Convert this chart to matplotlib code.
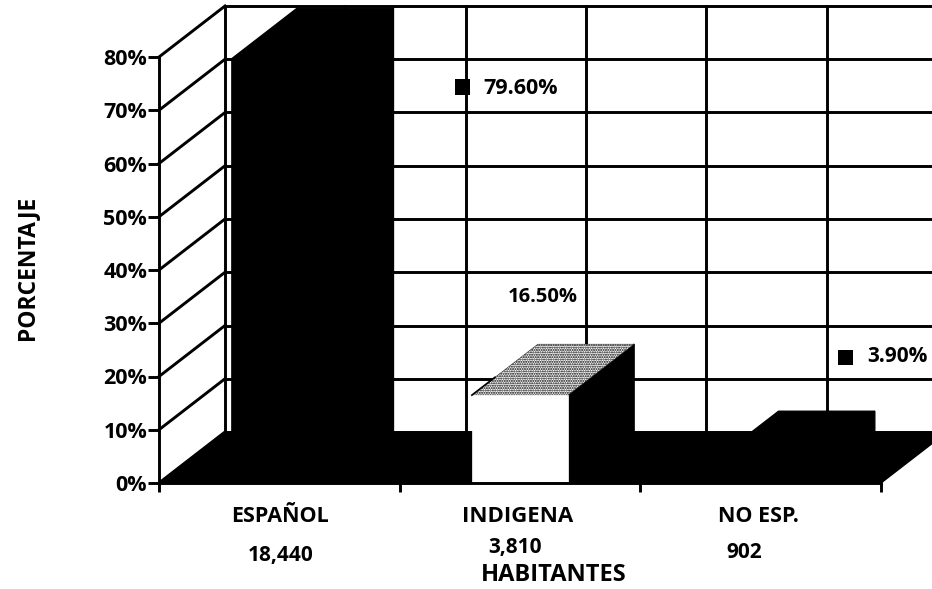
import matplotlib
matplotlib.use('Agg')
import matplotlib.pyplot as plt
from matplotlib.patches import Polygon, Rectangle

categories = ['ESPAÑOL', 'INDIGENA', 'NO ESP.']
habitantes = ['18,440', '3,810', '902']
values = [79.6, 16.5, 3.9]
value_labels = ['79.60%', '16.50%', '3.90%']
y_ticks = [0, 10, 20, 30, 40, 50, 60, 70, 80]
y_labels = ['0%', '10%', '20%', '30%', '40%', '50%', '60%', '70%', '80%']

W, H = 932, 589
plt.rcParams['font.family'] = ['Open Sans', 'DejaVu Sans']
plt.rcParams['font.weight'] = 'bold'

fig = plt.figure(figsize=(W / 100, H / 100), dpi=100, facecolor='white')
# front plane of the fake 3d box, in pixels: x 159-881, y 483-57
ax = fig.add_axes([159 / W, 1 - 483 / H, (881 - 159) / W, (483 - 57) / H])
ax.set_xlim(0, 3)
ax.set_ylim(0, 80)
ax.patch.set_alpha(0)

# depth offset of the back wall in data units
dx = 66 / (722 / 3)
dy = 51 / (426 / 80)
lw = 2.1
bar_w = 0.4


def face(points, fc, z, **kw):
    ax.add_patch(Polygon(points, closed=True, facecolor=fc, edgecolor=kw.pop('ec', 'black'),
                         linewidth=kw.pop('lw', 1.0), zorder=z, clip_on=False, **kw))


# walls
for v in y_ticks:
    ax.plot([0, dx], [v, v + dy], color='black', lw=lw, zorder=1, clip_on=False)
    ax.plot([dx, 3 + dx], [v + dy, v + dy], color='black', lw=lw, zorder=1, clip_on=False)
for i in range(7):
    xb = dx + i * 0.5
    ax.plot([xb, xb], [dy, 80 + dy], color='black', lw=lw, zorder=1, clip_on=False)

# floor
face([(0, 0), (3, 0), (3 + dx, dy), (dx, dy)], 'black', 2)

# bars
for i, v in enumerate(values):
    x0 = i + 0.5 - bar_w / 2
    x1 = x0 + bar_w
    front = 'white' if i == 1 else 'black'
    face([(x1, 0), (x1 + dx, dy), (x1 + dx, v + dy), (x1, v)], 'black', 3)
    if i == 1:
        # stippled top of the middle bar
        face([(x0, v), (x1, v), (x1 + dx, v + dy), (x0 + dx, v + dy)], 'white', 4, hatch='.......', lw=0.3)
        ax.plot([x0, x0 + dx * 0.35], [v, v + dy * 0.35], color='black', lw=1.2, zorder=6, clip_on=False)
    else:
        face([(x0, v), (x1, v), (x1 + dx, v + dy), (x0 + dx, v + dy)], 'black', 4)
    face([(x0, 0), (x1, 0), (x1, v), (x0, v)], front, 5, ec=front, lw=0.5)

# axes
for s in ['top', 'right']:
    ax.spines[s].set_visible(False)
for s in ['left', 'bottom']:
    ax.spines[s].set_linewidth(lw)
    ax.spines[s].set_zorder(8)
ax.set_yticks(y_ticks)
ax.set_yticklabels(y_labels, fontsize=15.5)
ax.set_xticks([0, 1, 2, 3])
ax.set_xticklabels([])
ax.tick_params(axis='x', length=6.5, width=lw)
ax.tick_params(axis='y', length=8, width=lw, pad=0.5)


# text placed in pixels of the scan
def px(x, y, s, fs, **kw):
    fig.text(x / W, 1 - y / H, s, va='center', fontsize=fs, **kw)


px(280, 516, categories[0], 15.5, ha='center')
px(517.5, 516, categories[1], 16, ha='center')
px(758.5, 517, categories[2], 15.5, ha='center')
px(280.5, 555, habitantes[0], 15, ha='center')
px(515, 547, habitantes[1], 15, ha='center')
px(744.5, 553, habitantes[2], 15, ha='center')
px(554, 575, 'HABITANTES', 17, ha='center')
px(27, 268, 'PORCENTAJE', 16.5, ha='center', rotation=90)

px(483, 88, value_labels[0], 15.5, ha='left')
px(508, 297, value_labels[1], 14.5, ha='left')
px(867, 357, value_labels[2], 15, ha='left')
for mx, my in [(462.5, 87), (845.5, 357)]:
    fig.add_artist(Rectangle(((mx - 7.5) / W, 1 - (my + 7.5) / H), 15 / W, 15 / H, facecolor='black',
                             edgecolor='none', transform=fig.transFigure, zorder=9))

fig.savefig('out.png', dpi=100)
